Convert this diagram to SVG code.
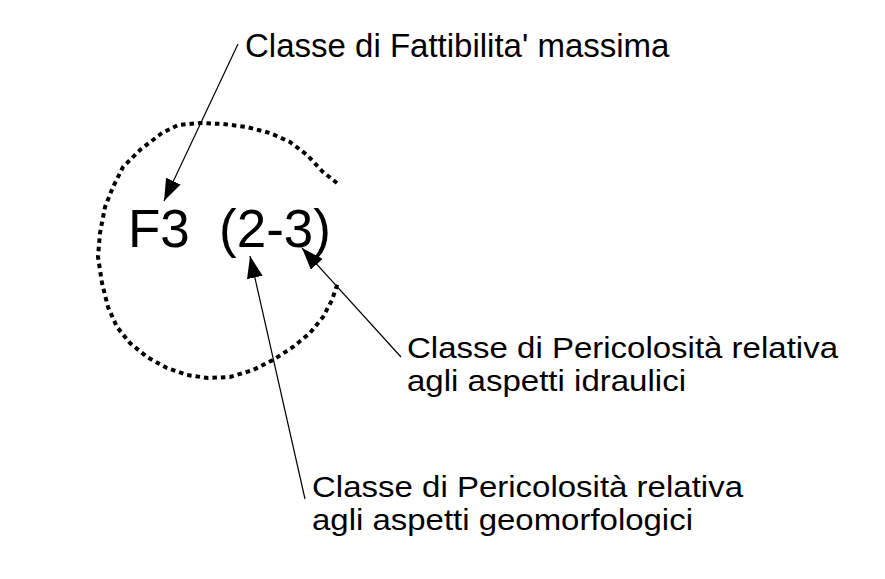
<svg xmlns="http://www.w3.org/2000/svg" width="885" height="579" viewBox="0 0 885 579">
  <defs>
    <style>
      .lbl { font-family: "Liberation Sans", Arial, sans-serif; font-size: 33px; fill: #000; }
      .lbl2 { font-family: "Liberation Sans", Arial, sans-serif; font-size: 29.5px; fill: #000; }
      .big { font-family: "Liberation Sans", Arial, sans-serif; font-size: 53px; fill: #000; }
      .leader { stroke: #000; stroke-width: 1.2; fill: none; marker-end: url(#arrow); }
      .dots { stroke: #000; stroke-width: 4; fill: none; stroke-dasharray: 4.5 4; }
    </style>
    <marker id="arrow" viewBox="0 0 22 16" refX="22" refY="8" markerWidth="22" markerHeight="16" markerUnits="userSpaceOnUse" orient="auto">
      <path d="M0,0 L22,8 L0,16 z" fill="#000"/>
    </marker>
  </defs>
  <rect width="885" height="579" fill="#fff"/>

  <g id="area">
    <polyline class="dots" points="337,183 323,172 307,155 290,142 270,133 247,127 223,124 200,123 178,125 162,133 140,150 123,167 113,187 105,207 100,233 98,257 102,283 108,307 117,327 130,343 147,357 167,368 187,375 208,378 230,377 253,370 273,360 293,347 310,333 323,317 332,300 338,282"/>
  </g>

  <g id="code">
    <text class="big" x="128" y="247">F3</text>
    <text class="big" x="219" y="247">(2-3)</text>
  </g>

  <g id="label-fattibilita">
    <text class="lbl" x="245" y="57">Classe di Fattibilita' massima</text>
  </g>
  <g id="label-idraulici">
    <text class="lbl2" x="407" y="358" textLength="431" lengthAdjust="spacingAndGlyphs">Classe di Pericolosità relativa</text>
    <text class="lbl2" x="407" y="391" textLength="279" lengthAdjust="spacingAndGlyphs">agli aspetti idraulici</text>
  </g>
  <g id="label-geomorfologici">
    <text class="lbl2" x="312" y="497" textLength="431" lengthAdjust="spacingAndGlyphs">Classe di Pericolosità relativa</text>
    <text class="lbl2" x="312" y="530" textLength="381" lengthAdjust="spacingAndGlyphs">agli aspetti geomorfologici</text>
  </g>

  <g id="connectors">
    <line class="leader" x1="238" y1="44" x2="164" y2="201"/>
    <line class="leader" x1="401" y1="357" x2="302" y2="248"/>
    <line class="leader" x1="305" y1="499" x2="250" y2="256"/>
  </g>
</svg>
